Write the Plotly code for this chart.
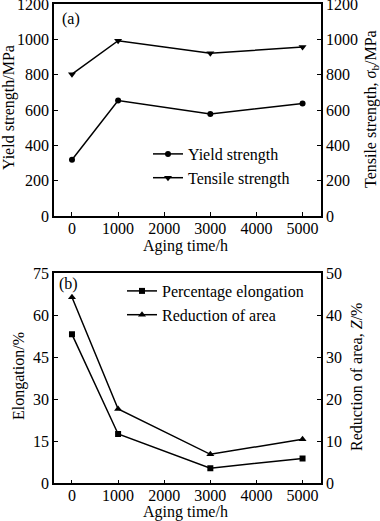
import plotly.graph_objects as go

aging_time = [0, 1000, 3000, 5000]
yield_strength = [318, 654, 577, 637]
tensile_strength = [803, 992, 921, 957]
elongation = [53.2, 17.6, 5.4, 8.9]
reduction_area = [44.3, 17.7, 6.9, 10.5]

x_ticks = [0, 1000, 2000, 3000, 4000, 5000]
top_ticks = [0, 200, 400, 600, 800, 1000, 1200]
elong_ticks = [0, 15, 30, 45, 60, 75]
red_ticks = [0, 10, 20, 30, 40, 50]

FONT = "Liberation Serif"
FS = 16
W, H = 380, 521
xdom = [54 / W, 321 / W]
top_dom = [1 - 216 / H, 1 - 4 / H]
bot_dom = [1 - 483.3 / H, 1 - 273.3 / H]

fig = go.Figure()
line = dict(color="black", width=1.5)
fig.add_trace(go.Scatter(x=aging_time, y=yield_strength, mode="lines+markers", name="Yield strength",
                         line=line, marker=dict(symbol="circle", size=6, color="black"),
                         xaxis="x", yaxis="y", legend="legend"))
fig.add_trace(go.Scatter(x=aging_time, y=tensile_strength, mode="lines+markers", name="Tensile strength",
                         line=line, marker=dict(symbol="triangle-down", size=7, color="black"),
                         xaxis="x", yaxis="y2", legend="legend"))
fig.add_trace(go.Scatter(x=aging_time, y=elongation, mode="lines+markers", name="Percentage elongation",
                         line=line, marker=dict(symbol="square", size=6, color="black"),
                         xaxis="x2", yaxis="y3", legend="legend2"))
fig.add_trace(go.Scatter(x=aging_time, y=reduction_area, mode="lines+markers", name="Reduction of area",
                         line=line, marker=dict(symbol="triangle-up", size=7, color="black"),
                         xaxis="x2", yaxis="y4", legend="legend2"))

font = dict(family=FONT, size=FS, color="black")

def xax(anchor):
    return dict(domain=xdom, anchor=anchor, range=[-390, 5400], tickvals=x_ticks,
                showline=True, linecolor="black", linewidth=1.5, mirror=True,
                ticks="inside", ticklen=4, tickcolor="black", showgrid=False, zeroline=False,
                tickfont=font, automargin=False, ticklabelstandoff=-3, ticklabeloverflow="allow")

def yax(dom, rng, ticks, side, anchor, overlay=None):
    d = dict(range=rng, tickvals=ticks, side=side, anchor=anchor,
             showline=True, linecolor="black", linewidth=1.5,
             ticks="inside", ticklen=4, tickcolor="black", showgrid=False, zeroline=False,
             tickfont=font, automargin=False, ticklabeloverflow="allow")
    if overlay:
        d["overlaying"] = overlay
    else:
        d["domain"] = dom
    return d

def ann(text, x, y, angle=0, anchor="center"):
    return dict(text=text, x=x / W, y=1 - y / H, xref="paper", yref="paper",
                xanchor=anchor, yanchor="middle", textangle=angle, showarrow=False, font=font)

fig.update_layout(
    width=W, height=H, margin=dict(l=0, r=0, t=0, b=0),
    paper_bgcolor="white", plot_bgcolor="white",
    font=font,
    xaxis=xax("y"),
    xaxis2=xax("y3"),
    yaxis=yax(top_dom, [0, 1200], top_ticks, "left", "x"),
    yaxis2=yax(top_dom, [0, 1200], top_ticks, "right", "x", overlay="y"),
    yaxis3=yax(bot_dom, [0, 75], elong_ticks, "left", "x2"),
    yaxis4=yax(bot_dom, [0, 50], red_ticks, "right", "x2", overlay="y3"),
    legend=dict(x=148 / W, y=1 - 137 / H, xanchor="left", yanchor="top", bgcolor="rgba(0,0,0,0)",
                font=font, itemwidth=30, tracegroupgap=0),
    legend2=dict(x=122 / W, y=1 - 274 / H, xanchor="left", yanchor="top", bgcolor="rgba(0,0,0,0)",
                 font=font, itemwidth=30, tracegroupgap=0),
    annotations=[
        ann("Yield strength/MPa", 9, 108, -90),
        ann("Tensile strength, <i>σ</i><sub>b</sub>/MPa", 371, 109, -90),
        ann("Aging time/h", 185, 246),
        ann("Elongation/%", 19, 376, -90),
        ann("Reduction of area, <i>Z</i>/%", 356, 377, -90),
        ann("Aging time/h", 185, 512),
        ann("(a)", 60, 19, anchor="left"),
        ann("(b)", 57, 284, anchor="left"),
    ],
)

fig.write_html("out.html", config={"displayModeBar": False},
               post_script="document.body.style.margin='0';")
